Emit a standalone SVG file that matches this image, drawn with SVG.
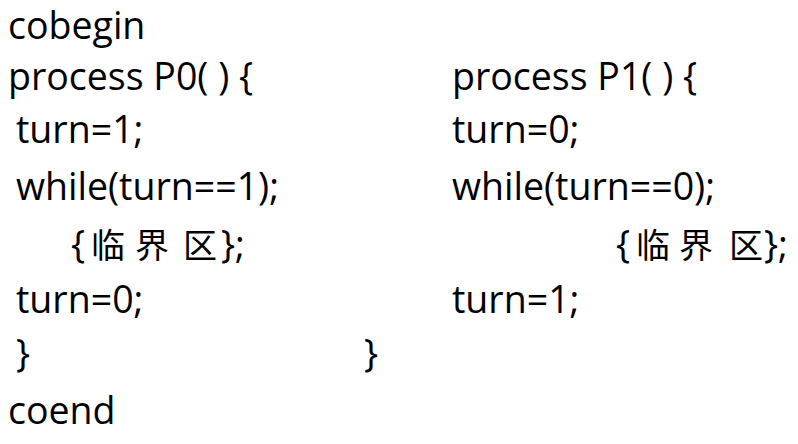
<svg xmlns="http://www.w3.org/2000/svg" width="798" height="444" viewBox="0 0 798 444">
<style>
.t{font-family:"Open Sans","Liberation Sans",sans-serif;font-size:37.5px;fill:#000}
.c{font-family:"Noto Sans CJK SC","Open Sans",sans-serif;font-size:34px;fill:#000}
</style>
<rect width="798" height="444" fill="#fff"/>
<g id="outer">
<text class="t" x="8" y="39">cobegin</text>
<text class="t" x="8" y="424">coend</text>
</g>
<g id="p0">
<text class="t" x="8" y="90">process P0( ) {</text>
<text class="t" x="16" y="143">turn=1;</text>
<text class="t" x="16" y="200">while(turn==1);</text>
<text class="t" x="71" y="258">{</text>
<text class="c" x="91" y="258">临</text>
<text class="c" x="135" y="258">界</text>
<text class="c" x="183" y="258">区</text>
<text class="t" x="221" y="258">};</text>
<text class="t" x="16" y="313">turn=0;</text>
<text class="t" x="16" y="367">}</text>
</g>
<g id="p1">
<text class="t" x="452" y="90">process P1( ) {</text>
<text class="t" x="452" y="143">turn=0;</text>
<text class="t" x="452" y="200">while(turn==0);</text>
<text class="t" x="616" y="258">{</text>
<text class="c" x="636" y="258">临</text>
<text class="c" x="679" y="258">界</text>
<text class="c" x="729" y="258">区</text>
<text class="t" x="764" y="258">};</text>
<text class="t" x="452" y="313">turn=1;</text>
<text class="t" x="364" y="367">}</text>
</g>
</svg>
